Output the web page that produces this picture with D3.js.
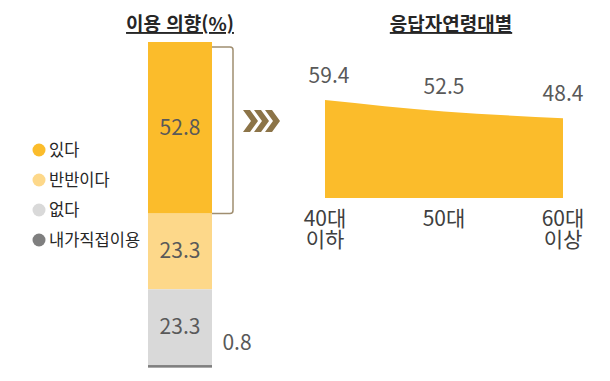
<!DOCTYPE html>
<html lang="ko">
<head>
<meta charset="UTF-8">
<title>이용 의향</title>
<script src="https://cdn.jsdelivr.net/npm/d3@7"></script>
<style>
  body { margin: 0; background: #fff; }
  text { font-family: "Noto Sans CJK KR", "Noto Sans", sans-serif; }
</style>
</head>
<body>
<script>
  // 이용 의향 (%)
  const categories = ['있다', '반반이다', '없다', '내가직접이용']
  const shares = [52.8, 23.3, 23.3, 0.8]
  const colors = ['#FBBC2B', '#FDD88A', '#D9D9D9', '#7F7F7F']

  // 응답자연령대별 '있다' 비율
  const ageGroups = ['40대 이하', '50대', '60대 이상']
  const ageLines = [['40대', '이하'], ['50대'], ['60대', '이상']]
  const ageValues = [59.4, 52.5, 48.4]

  const W = 610, H = 381
  const svg = d3.select('body').append('svg')
    .attr('width', W)
    .attr('height', H)

  const txt = '#595959'
  const numSize = 21

  // 누적 막대
  const yBar = d3.scaleLinear().domain([0, 100]).range([42, 367])
  const barX = 148, barW = 64
  let acc = 0
  const stacked = shares.map((v, i) => {
    const d = { key: categories[i], v: v, y0: acc, y1: acc + v, color: colors[i] }
    acc += v
    return d
  })

  svg.append('g').selectAll('rect')
    .data(stacked)
    .enter()
    .append('rect')
    .attr('x', barX)
    .attr('width', barW)
    .attr('y', d => yBar(d.y0))
    .attr('height', d => yBar(d.y1) - yBar(d.y0))
    .attr('fill', d => d.color)

  svg.append('g').selectAll('text')
    .data(stacked.slice(0, 3))
    .enter()
    .append('text')
    .attr('x', barX + barW / 2)
    .attr('y', d => (yBar(d.y0) + yBar(d.y1)) / 2 + 7)
    .attr('text-anchor', 'middle')
    .attr('font-size', numSize)
    .attr('fill', txt)
    .text(d => d.v.toFixed(1))

  const last = stacked[3]
  svg.append('text')
    .attr('x', 237)
    .attr('y', yBar(last.y0) - 15)
    .attr('text-anchor', 'middle')
    .attr('font-size', numSize)
    .attr('fill', txt)
    .text(last.v.toFixed(1))

  // 제목
  svg.append('text')
    .attr('x', 180).attr('y', 31)
    .attr('text-anchor', 'middle')
    .attr('font-size', 19).attr('font-weight', 'bold')
    .attr('fill', '#262626')
    .attr('text-decoration', 'underline')
    .text('이용 의향(%)')

  // 괄호
  const bTop = yBar(0) + 5, bBot = yBar(stacked[0].y1)
  svg.append('path')
    .attr('d', `M${barX + barW},${bTop} H230 Q233,${bTop} 233,${bTop + 3} V${bBot - 3} Q233,${bBot} 230,${bBot} H${barX + barW}`)
    .attr('fill', 'none')
    .attr('stroke', '#A08E70')
    .attr('stroke-width', 1.5)

  // >>> 화살표
  const chev = svg.append('g').attr('fill', '#8C7448')
  d3.range(3).forEach(i => {
    const x0 = 243 + i * 11
    chev.append('path')
      .attr('d', `M${x0},110 h7 l8,11 l-8,11 h-7 l8,-11 z`)
  })

  // 범례
  const leg = svg.append('g').selectAll('g')
    .data(categories)
    .enter()
    .append('g')
    .attr('transform', (d, i) => `translate(39,${150 + i * 30})`)
  leg.append('circle').attr('r', 6.5).attr('fill', (d, i) => colors[i])
  leg.append('text')
    .attr('x', 10).attr('y', 6)
    .attr('font-size', 16.5)
    .attr('fill', '#262626')
    .text(d => d)

  // 응답자연령대별 영역
  svg.append('text')
    .attr('x', 451).attr('y', 31)
    .attr('text-anchor', 'middle')
    .attr('font-size', 19).attr('font-weight', 'bold')
    .attr('fill', '#262626')
    .attr('text-decoration', 'underline')
    .text('응답자연령대별')

  const xA = d3.scalePoint().domain(ageGroups).range([325, 563])
  const yA = d3.scaleLinear().domain([0, 60]).range([198, 99])

  const area = d3.area()
    .x((d, i) => xA(ageGroups[i]))
    .y0(yA(0))
    .y1(d => yA(d))
    .curve(d3.curveMonotoneX)

  svg.append('path')
    .datum(ageValues)
    .attr('d', area)
    .attr('fill', '#FBBC2B')

  svg.append('g').selectAll('text')
    .data(ageValues)
    .enter()
    .append('text')
    .attr('x', (d, i) => xA(ageGroups[i]) + (i === 0 ? 4 : 0))
    .attr('y', d => yA(d) - 17)
    .attr('text-anchor', 'middle')
    .attr('font-size', numSize)
    .attr('fill', txt)
    .text(d => d.toFixed(1))

  // x축 라벨 (두 줄)
  ageGroups.forEach((g, i) => {
    ageLines[i].forEach((s, j) => {
      svg.append('text')
        .attr('x', xA(g))
        .attr('y', 226 + j * 21)
        .attr('text-anchor', 'middle')
        .attr('font-size', numSize)
        .attr('fill', '#404040')
        .text(s)
    })
  })
</script>
</body>
</html>
